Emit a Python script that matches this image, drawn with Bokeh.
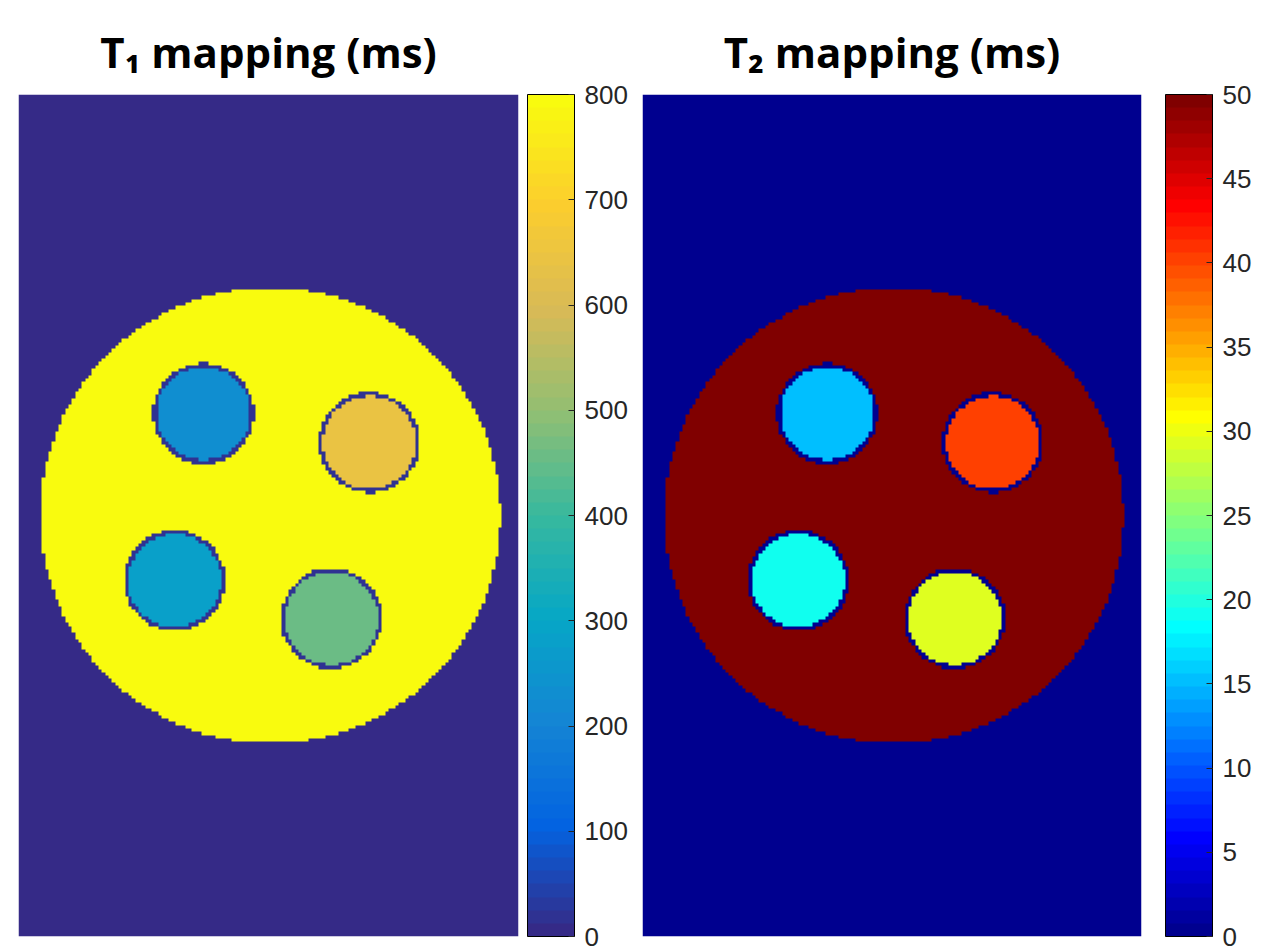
import numpy as np
from bokeh.plotting import figure
from bokeh.models import LinearColorMapper, ColorBar, FixedTicker, Range1d
from bokeh.layouts import row
from bokeh.embed import file_html
from bokeh.resources import INLINE

# ---------------- data ----------------
n_cols, n_rows = 150, 255
phantom_cx, phantom_cy, phantom_r = 75.6, 127.5, 69.0   # pixel units, row counted from top
vial_cx = [55.5, 105.3, 46.8, 93.9]
vial_cy = [96.6, 105.4, 147.2, 158.7]
vial_r = [15.2, 15.2, 15.2, 15.2]
rim_width = 1.2

t1_background = 0.0
t1_phantom = 800.0
t1_rim = 20.0
t1_vials = [225.0, 640.0, 280.0, 450.0]
t1_ticks = [0, 100, 200, 300, 400, 500, 600, 700, 800]

t2_background = 0.0
t2_phantom = 49.5
t2_rim = 0.0
t2_vials = [15.5, 40.0, 19.0, 29.0]
t2_ticks = [0, 5, 10, 15, 20, 25, 30, 35, 40, 45, 50]

titles = ["T\u2081 mapping (ms)", "T\u2082 mapping (ms)"]

# ---------------- colour maps ----------------
parula_anchor = [
    (0.2081, 0.1663, 0.5292), (0.0117, 0.3875, 0.8820), (0.0793, 0.5200, 0.8312),
    (0.0228, 0.6535, 0.7768), (0.2178, 0.7250, 0.6193), (0.5709, 0.7485, 0.4494),
    (0.8507, 0.7299, 0.3360), (0.9880, 0.8066, 0.1794), (0.9763, 0.9831, 0.0538)]


def to_hex(c):
    return "#%02x%02x%02x" % tuple(int(round(255 * max(0, min(1, v)))) for v in c)


def parula(m=64):
    a = np.array(parula_anchor)
    xa = np.linspace(0, 1, len(a))
    xs = np.linspace(0, 1, m)
    return [to_hex([np.interp(x, xa, a[:, k]) for k in range(3)]) for x in xs]


def jet(m=64):
    n = int(np.ceil(m / 4))
    u = np.concatenate([np.arange(1, n + 1) / n, np.ones(n - 1), np.arange(n, 0, -1) / n])
    g = int(np.ceil(n / 2)) - (1 if m % 4 == 1 else 0) + np.arange(1, len(u) + 1)
    r = g + n
    b = g - n
    J = np.zeros((m, 3))
    for ch, idx in ((0, r), (1, g), (2, b)):
        ok = (idx >= 1) & (idx <= m)
        J[idx[ok] - 1, ch] = u[ok]
    return [to_hex(c) for c in J]


# ---------------- rasterise the phantom ----------------
def build_map(bg, ph, rim, vials):
    cc, rr = np.meshgrid(np.arange(n_cols) + 0.5, np.arange(n_rows) + 0.5)
    img = np.full((n_rows, n_cols), bg, dtype=float)
    img[np.hypot(cc - phantom_cx, rr - phantom_cy) <= phantom_r] = ph
    for cx, cy, r, v in zip(vial_cx, vial_cy, vial_r, vials):
        d = np.hypot(cc - cx, rr - cy)
        img[d <= r] = rim
        img[d <= r - rim_width] = v
    return np.flipud(img)


def panel(img, palette, low, high, ticks, title, w, min_left, min_right, cb_offset):
    mapper = LinearColorMapper(palette=palette, low=low, high=high)
    p = figure(frame_width=w, frame_height=842, output_backend="svg", toolbar_location=None,
               x_range=Range1d(0, n_cols), y_range=Range1d(0, n_rows),
               min_border_left=min_left, min_border_right=min_right,
               min_border_top=94, min_border_bottom=14, title=title)
    p.image(image=[img], x=0, y=0, dw=n_cols, dh=n_rows, color_mapper=mapper)
    p.axis.visible = False
    p.grid.visible = False
    p.outline_line_color = None
    p.title.align = "center"
    p.title.text_font = "Open Sans"
    p.title.text_font_style = "bold"
    p.title.text_font_size = "42px"
    p.title.text_color = "black"
    p.title.standoff = 29
    cb = ColorBar(color_mapper=mapper, ticker=FixedTicker(ticks=ticks), width=47,
                  padding=0, margin=0, location=(cb_offset, 0),
                  bar_line_color="black", bar_line_width=1,
                  major_label_text_font="Liberation Sans", major_label_text_font_size="26px",
                  major_label_text_color="#262626", major_tick_line_color="#262626",
                  major_tick_in=6, major_tick_out=0, label_standoff=10,
                  border_line_color=None, background_fill_alpha=0)
    p.add_layout(cb, "right")
    return p


p1 = panel(build_map(t1_background, t1_phantom, t1_rim, t1_vials), parula(), 0, 800,
           t1_ticks, titles[0], 500, 18, 124, 9)
p2 = panel(build_map(t2_background, t2_phantom, t2_rim, t2_vials), jet(), 0, 50,
           t2_ticks, titles[1], 499, 0, 116, 24)

layout = row(p1, p2)
open("out.html", "w").write(file_html(layout, INLINE))
